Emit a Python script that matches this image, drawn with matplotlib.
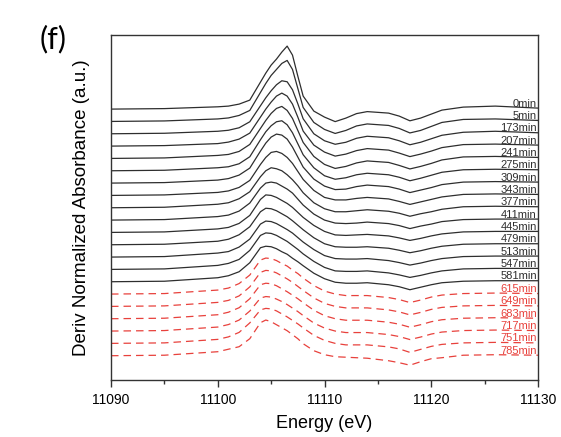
import matplotlib
matplotlib.use("Agg")
import matplotlib.pyplot as plt

energy = [11090, 11095, 11100, 11101, 11102, 11103, 11104, 11104.5, 11105, 11105.5,
          11106, 11106.5, 11107, 11107.5, 11108, 11109, 11110, 11111, 11112, 11113,
          11114, 11116, 11117, 11118, 11119, 11120, 11121, 11123, 11126, 11130]

times = [0, 5, 173, 207, 241, 275, 309, 343, 377, 411, 445,
         479, 513, 547, 581, 615, 649, 683, 717, 751, 785]
n_black = 15          # first 15 traces solid, rest red dashed
step = 12.33          # vertical offset between traces (a.u.)

# derivative of normalized absorbance, a.u., one list per time
t0 = [0, 0.5, 2.3, 3, 5, 9, 27, 36, 44, 50, 57, 63, 54, 33, 13, -2, -8, -12.5, -9, -4.5,
      -2.5, -4, -7, -11.7, -9, -5, -1, 2, 3, 1]
t5 = [0, 0.5, 2.5, 3.5, 6, 11, 29, 38, 46, 52, 58, 61, 52, 33, 14, -1, -8, -12, -9, -4.5,
      -2.5, -4, -7, -11.5, -9, -5, -1, 2, 2.5, 1]
t173 = [0, 0.5, 2.5, 3.5, 6, 12, 28, 36, 43, 49, 53, 52, 44, 30, 15, 0, -7, -10.5, -8.5, -4.5,
        -2.5, -4, -7, -11, -8.5, -5, -1.5, 1.5, 2.5, 1]
t207 = [0, 0.5, 2.5, 4, 7, 13, 29, 37, 44, 50, 53, 50, 42, 29, 15, 1, -6, -10, -8, -4.5,
        -2.5, -4, -7, -10.5, -8, -5, -1.5, 1.5, 2, 1]
t241 = [0, 0.5, 3, 4, 7, 14, 30, 38, 45, 50, 52, 48, 40, 28, 16, 2, -6, -10, -8, -4.5,
        -2.5, -4, -7, -10.5, -8, -5, -1.5, 1.5, 2, 1]
t275 = [0, 0.5, 3, 4, 7, 14, 31, 39, 45, 49, 50, 46, 38, 27, 16, 3, -5, -8.5, -7, -4,
        -2.5, -4, -6.5, -10, -7.5, -4.5, -1.5, 1, 1.5, 1]
t309 = [0, 0.5, 3, 4.5, 8, 15, 32, 40, 46, 49, 48, 44, 36, 26, 16, 4, -3, -6.5, -6, -3.5,
        -2, -3.5, -6, -9.5, -7, -4.5, -1.5, 1, 1.5, 1]
t343 = [0, 0.5, 3, 4.5, 8, 15, 31, 38, 43, 44, 42, 38, 32, 24, 16, 5, -2, -4.5, -4.5, -3,
        -2, -3.5, -6, -9, -6.5, -4, -1.5, 1, 1.5, 1]
t377 = [0, 0.5, 3.5, 5, 9, 16, 31, 37, 40, 39, 37, 33, 28, 22, 15, 5, -1, -4, -4, -3,
        -2, -3.5, -5.5, -8.5, -6, -4, -1.5, 1, 1.5, 1]
t411 = [0, 0.5, 3.5, 5, 9, 17, 32, 37, 38, 37, 34, 31, 27, 21, 15, 6, 0, -3, -3.5, -3,
        -2, -3.5, -5.5, -8.5, -6, -4, -1.5, 0.5, 1, 1]
t445 = [0, 0.5, 3.5, 5, 9, 17, 33, 37.5, 37, 35, 32, 29, 25, 20, 15, 7, 1, -2.5, -3, -2.5,
        -2, -3.5, -5.5, -8, -6, -3.5, -1.5, 0.5, 1, 1]
t479 = [0, 0.5, 3.5, 5.5, 10, 18, 33, 36.5, 36, 34, 31, 28, 24, 19.5, 15, 7, 1, -2, -2.5, -2.5,
        -2, -3.5, -5.5, -8, -6, -3.5, -1.5, 0.5, 1, 1]
t513 = [0, 0.5, 4, 5.5, 10, 18, 33, 36, 35.5, 33.5, 30.5, 27.5, 24, 19.5, 15, 7.5, 1.5, -1.5, -2, -2,
        -1.5, -3.5, -5.5, -8, -6, -3.5, -1.5, 0.5, 1, 1]
t547 = [0, 0.5, 4, 6, 10, 19, 34, 36.5, 36, 34, 31, 28, 24, 20, 15.5, 8, 2, -1.5, -2, -2,
        -1.5, -3.5, -5.5, -8, -6, -3.5, -1.5, 0.5, 1, 1]
t581 = [0, 0.5, 4, 6, 10, 19, 34, 35.5, 35, 33, 30, 27.5, 23.5, 20, 16, 8.5, 3, -0.5, -1.5, -1.5,
        -1, -3, -5, -8, -5.5, -3, -1, 0.5, 1, 1]
t615 = [0, 0.5, 4, 6, 10.5, 19, 34, 36, 35.5, 33.5, 30.5, 28, 24, 20.5, 16, 8.5, 3, 0, -1.5, -1.5,
        -1.5, -3.5, -5.5, -8.5, -6, -3, -1, 0.5, 1, 0.5]
t649 = [0, 0.5, 4, 6, 10.5, 19.5, 34, 36, 35.5, 33.5, 30.5, 27.5, 24, 20, 16, 8.5, 3, 0, -1.5, -1.5,
        -1.5, -3.5, -5.5, -8.5, -6, -3, -1, 0.5, 1, 0.5]
t683 = [0, 0.5, 4, 6.5, 11, 20, 34, 35.5, 35, 33, 30, 27, 23.5, 20, 16, 8.5, 3, 0, -1.5, -1.5,
        -1.5, -3.5, -5.5, -8.5, -6, -3, -1, 0.5, 1, 0.5]
t717 = [0, 0.5, 4, 6.5, 11, 20, 33, 34.5, 34, 32, 29.5, 26.5, 23, 19.5, 15.5, 8, 3, 0, -1.5, -1.5,
        -1.5, -3.5, -5.5, -8.5, -6, -3, -1, 0.5, 1, 0.5]
t751 = [0, 0.5, 4, 6.5, 11, 20.5, 33.5, 35, 34.5, 32.5, 29.5, 26.5, 23, 19.5, 15.5, 8, 3, 0, -1.5, -1.5,
        -1.5, -3.5, -5.5, -9, -6, -3, -1, 0.5, 1, 0.5]
t785 = [0, 0.5, 4, 6.5, 9, 17, 33, 35.7, 34, 31, 28, 25, 21, 17, 12, 5, 1, -1, -1.5, -2,
        -2.5, -5, -7, -9.5, -6, -3, -2, 0.5, 1, 0.5]

traces = [t0, t5, t173, t207, t241, t275, t309, t343, t377, t411, t445,
          t479, t513, t547, t581, t615, t649, t683, t717, t751, t785]

plt.rcParams["font.family"] = ["Liberation Sans", "DejaVu Sans"]

fig = plt.figure(figsize=(5.61, 4.37), dpi=100)
ax = fig.add_axes([0.1979, 0.1304, 0.7611, 0.7895])

black = "#2e2e2e"
red = "#e8413c"
n = len(traces)
for i, (t, y) in enumerate(zip(times, traces)):
    off = (n - 1 - i) * step
    yy = [v + off for v in y]
    if i < n_black:
        ax.plot(energy, yy, color=black, lw=0.9)
        c = black
    else:
        ax.plot(energy, yy, color=red, lw=0.9, dashes=(6, 4))
        c = red
    ax.text(11129.9, yy[-1] + 1.5, f"{t}min", color=c, fontsize=8,
            ha="right", va="baseline")

ax.set_xlim(11090, 11130)
ax.set_ylim(-24.3, 320.7)
ax.set_xticks([11090, 11100, 11110, 11120, 11130])
ax.set_xticks([11095, 11105, 11115, 11125], minor=True)
ax.set_yticks([])
ax.tick_params(axis="x", which="major", direction="out", length=5, width=1,
               labelsize=10, colors="#333333", labelcolor="black", pad=4)
ax.tick_params(axis="x", which="minor", direction="out", length=3, width=1,
               colors="#333333")
for s in ax.spines.values():
    s.set_color("#333333")
    s.set_linewidth(1.0)

ax.set_xlabel("Energy (eV)", fontsize=13, labelpad=6)
ax.set_ylabel("Deriv Normalized Absorbance (a.u.)", fontsize=13.5, labelpad=15)
fig.text(0.095, 0.91, "(f)", fontsize=22, family=["Lato", "DejaVu Sans"],
         ha="center", va="center")

fig.savefig("out.png", dpi=100)
